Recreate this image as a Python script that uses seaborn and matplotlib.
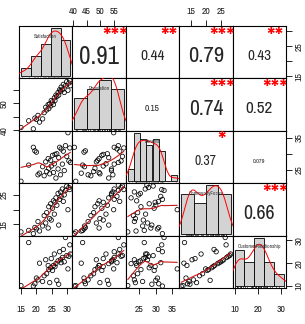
import numpy as np
import pandas as pd
import matplotlib
matplotlib.use("Agg")
import matplotlib.pyplot as plt
import seaborn as sns
from matplotlib import font_manager

# ---------------- data ----------------
var_names = ["Satisfaction", "Population", "Benefits", "CommunityFocus", "CustomerRelationship"]

satisfaction = [15.0, 17.5, 19.0, 19.5, 20.0, 20.5, 21.0, 22.0, 22.5, 23.0, 23.3, 23.8,
                24.0, 24.3, 24.6, 24.8, 25.2, 25.5, 25.8, 26.0, 26.3, 26.6, 27.0, 27.2,
                27.5, 27.8, 28.0, 28.4, 28.7, 29.0, 29.4, 29.8, 30.2, 30.5, 30.8, 31.0]
population = [41.0, 43.5, 40.5, 44.5, 44.0, 45.5, 43.0, 44.2, 46.5, 48.5, 47.5, 49.5,
              48.0, 49.8, 49.0, 51.0, 50.5, 49.5, 52.0, 51.0, 53.0, 52.5, 54.0, 53.0,
              55.0, 54.5, 56.0, 55.0, 57.0, 54.0, 56.5, 58.0, 54.8, 57.5, 58.5, 56.5]
benefits = [21.5, 26.5, 32.0, 30.9, 30.5, 23.5, 24.0, 26.0, 23.2, 27.5, 24.5, 28.5,
            25.5, 23.8, 28.0, 26.2, 29.5, 24.2, 26.9, 29.8, 22.5, 30.0, 25.3, 28.8,
            32.0, 23.5, 31.5, 26.8, 30.8, 24.8, 32.5, 29.2, 36.5, 27.8, 31.8, 27.3]
community = [12.5, 13.0, 11.9, 14.0, 13.5, 16.0, 12.8, 14.5, 18.0, 15.5, 19.0, 13.8,
             21.0, 17.0, 22.0, 16.5, 20.5, 23.0, 18.5, 22.5, 24.0, 21.5, 25.5, 14.8,
             23.5, 26.0, 24.5, 27.0, 22.8, 25.0, 26.5, 28.0, 20.0, 27.5, 26.8, 28.3]
customer = [10.2, 29.0, 10.0, 11.0, 13.5, 12.7, 20.0, 12.0, 14.5, 21.5, 15.4, 19.0,
            17.2, 11.5, 18.0, 22.0, 16.8, 19.0, 24.0, 18.5, 19.8, 12.5, 21.0, 10.8,
            25.0, 21.5, 20.2, 22.5, 26.0, 20.6, 31.2, 23.3, 17.5, 23.0, 28.0, 24.0]

# correlation labels shown in the upper panels (row, col, r, stars)
cor_rows = [0, 0, 0, 0, 1, 1, 1, 2, 2, 3]
cor_cols = [1, 2, 3, 4, 2, 3, 4, 3, 4, 4]
cor_values = [0.91, 0.44, 0.79, 0.43, 0.15, 0.74, 0.52, 0.37, 0.079, 0.66]
cor_labels = ["0.91", "0.44", "0.79", "0.43", "0.15", "0.74", "0.52", "0.37", "0.079", "0.66"]
cor_stars = ["***", "**", "***", "**", "", "***", "***", "*", "", "***"]

# axis ticks per variable and which labels are printed on vertical axes
tick_values = [[15, 20, 25, 30], [40, 45, 50, 55], [25, 30, 35], [15, 20, 25], [10, 20, 30]]
vert_tick_labels = [["15", "", "25", ""], ["40", "", "50", ""], ["25", "", "35"],
                    ["15", "", "25"], ["10", "20", "30"]]

df = pd.DataFrame(dict(zip(var_names, [satisfaction, population, benefits, community, customer])))

# ---------------- style ----------------
sns.set_theme(style="white")
avail = {f.name for f in font_manager.fontManager.ttflist}
fams = [f for f in ["Archivo Narrow", "Liberation Sans Narrow", "Asap Condensed"] if f in avail]
plt.rcParams["font.family"] = fams + ["DejaVu Sans"]

W, H = 305, 324
fig = plt.figure(figsize=(W / 100, H / 100), dpi=100)
fig.patch.set_facecolor("white")
X0, Y0 = 19, 26
PW, PH = (286 - 19) / 5, (288 - 26) / 5
n = len(var_names)
TICKFS = 7


def lowess(x, y, f=2 / 3, iters=3):
    x = np.asarray(x, float); y = np.asarray(y, float)
    o = np.argsort(x); x = x[o]; y = y[o]
    N = len(x); r = int(np.ceil(f * N))
    delta = np.ones(N); yest = np.zeros(N)
    for _ in range(iters + 1):
        for i in range(N):
            d = np.abs(x - x[i]); h = np.sort(d)[r - 1]
            w = np.clip(d / max(h, 1e-12), 0, 1)
            w = (1 - w ** 3) ** 3 * delta
            sw = w.sum(); mx = (w * x).sum() / sw; my = (w * y).sum() / sw
            vx = (w * (x - mx) ** 2).sum()
            b = (w * (x - mx) * (y - my)).sum() / vx if vx > 1e-12 else 0.0
            yest[i] = my + b * (x[i] - mx)
        res = y - yest; s = np.median(np.abs(res))
        if s < 1e-12:
            break
        u = np.clip(res / (6 * s), -1, 1); delta = (1 - u ** 2) ** 2
    return x, yest


lims = []
for v in var_names:
    lo, hi = df[v].min(), df[v].max(); rg = hi - lo
    lims.append((lo - 0.04 * rg, hi + 0.04 * rg))

hist_bins = [[14.6, 18.0, 21.4, 24.8, 28.2, 31.6], [40, 45, 50, 55, 60],
             [21, 23, 25, 27, 29, 31, 33, 35, 37], [10, 15, 20, 25, 30],
             [9.8, 14.1, 18.4, 22.7, 27.0, 31.3]]

axes = {}
renderer = fig.canvas.get_renderer()
for i in range(n):
    for j in range(n):
        rect = [(X0 + j * PW) / W, 1 - (Y0 + (i + 1) * PH) / H, PW / W, PH / H]
        ax = fig.add_axes(rect)
        axes[(i, j)] = ax
        ax.set_facecolor("white")
        ax.set_xlim(lims[j]); ax.set_ylim(lims[i])
        for sp in ax.spines.values():
            sp.set_color("black"); sp.set_linewidth(0.8); sp.set_visible(True)
        ax.set_xticks([]); ax.set_yticks([])
        ax.tick_params(direction="out", length=4, width=0.6, color="black",
                       labelsize=TICKFS, labelcolor="#222222")
        if i == 0 and j % 2 == 1:
            ax.set_xticks(tick_values[j]); ax.set_xticklabels([str(t) for t in tick_values[j]])
            ax.tick_params(axis="x", top=True, bottom=False, labeltop=True, labelbottom=False, pad=3.5)
        if i == n - 1 and j % 2 == 0:
            ax.set_xticks(tick_values[j]); ax.set_xticklabels([str(t) for t in tick_values[j]])
            ax.tick_params(axis="x", top=False, bottom=True, labeltop=False, labelbottom=True, pad=8)
        if j == 0 and i % 2 == 1:
            ax.set_yticks(tick_values[i]); ax.set_yticklabels(vert_tick_labels[i], rotation=90, va="center")
            ax.tick_params(axis="y", left=True, right=False, labelleft=True, labelright=False, pad=3.5)
        if j == n - 1 and i % 2 == 0:
            ax.set_yticks(tick_values[i]); ax.set_yticklabels(vert_tick_labels[i], rotation=90, va="center")
            ax.tick_params(axis="y", left=False, right=True, labelleft=False, labelright=True, pad=2)

        if i > j:
            sns.scatterplot(x=df[var_names[j]], y=df[var_names[i]], ax=ax, marker="o",
                            facecolor="none", edgecolor="black", linewidth=0.55, s=10, legend=False)
            lx, ly = lowess(df[var_names[j]], df[var_names[i]])
            sns.lineplot(x=lx, y=ly, ax=ax, color="#c81818", linewidth=0.8, sort=False,
                         estimator=None, legend=False)
            ax.set_xlabel(""); ax.set_ylabel("")
        elif i == j:
            hax = fig.add_axes(rect, frameon=False)
            x = df[var_names[i]].to_numpy()
            b = hist_bins[i]
            sns.histplot(x=x, bins=b, stat="density", ax=hax, color="#d3d3d3", alpha=1,
                         edgecolor="black", linewidth=0.6)
            cnt, _ = np.histogram(x, bins=b, density=True)
            sd = x.std(ddof=1); iqr = np.subtract(*np.percentile(x, [75, 25]))
            bw = 0.9 * min(sd, iqr / 1.34) * len(x) ** -0.2
            sns.kdeplot(x=x, bw_method=bw / sd, cut=3, ax=hax, color="red", linewidth=0.7)
            sns.rugplot(x=x, ax=hax, height=0.03, color="black", linewidth=0.4)
            rg = b[-1] - b[0]; m = cnt.max()
            hax.set_xlim(b[0] - 0.04 * rg, b[-1] + 0.04 * rg)
            hax.set_ylim(-0.04 * m, 1.04 * m)
            hax.set_xticks([]); hax.set_yticks([]); hax.set_xlabel(""); hax.set_ylabel("")
            hax.text(0.5, 0.8, var_names[i], transform=hax.transAxes, ha="center", va="center",
                     fontsize=3.8, color="#333333")
            ax.set_xlabel(""); ax.set_ylabel("")

# correlation text in upper panels (size proportional to |r|, as chart.Correlation does)
for r_, c_, val, lab, st in zip(cor_rows, cor_cols, cor_values, cor_labels, cor_stars):
    ax = axes[(r_, c_)]
    t = ax.text(0.5, 0.42, lab, transform=ax.transAxes, ha="center", va="center", fontsize=10)
    wpx = t.get_window_extent(renderer).width
    base = 10 * 0.8 * PW / wpx
    t.set_fontsize(base * (abs(val) + 0.3) / 1.3)
    if st:
        ax.text(0.8, 0.77, st, transform=ax.transAxes, ha="center", va="center", fontsize=base,
                color="red", clip_on=True)

fig.savefig("out.png", dpi=100, facecolor="white")
